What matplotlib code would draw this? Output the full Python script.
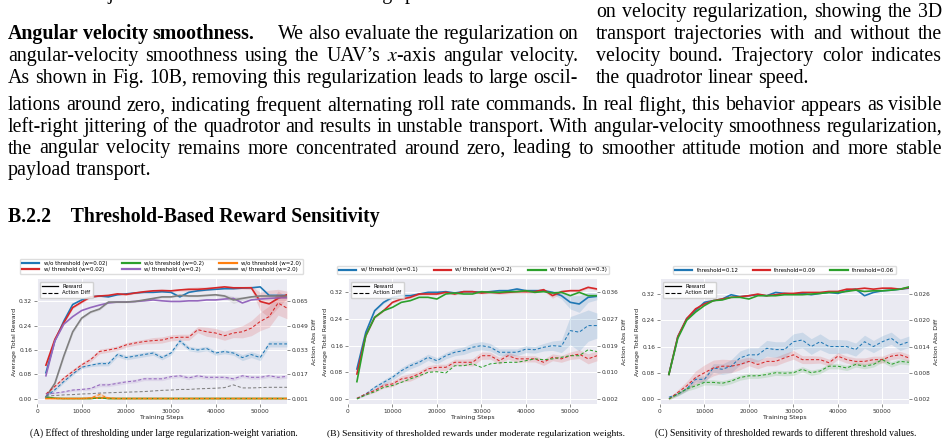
import numpy as np
import matplotlib
matplotlib.use('Agg')
import matplotlib.pyplot as plt
from matplotlib.lines import Line2D

plt.rcParams['mathtext.fontset'] = 'stix'
plt.rcParams['font.family'] = 'DejaVu Sans'

W, H = 948, 443
fig = plt.figure(figsize=(W / 100, H / 100), dpi=100)
rend = fig.canvas.get_renderer()
SERIF = 'Liberation Serif'
BODY = 14.3

# ---------------- data ----------------
steps = np.arange(2000, 56001, 2000)

# panel A: large regularization-weight variation
a_names = ['w/o threshold (w=0.02)', 'w/ threshold (w=0.02)', 'w/o threshold (w=0.2)',
           'w/ threshold (w=0.2)', 'w/o threshold (w=2.0)', 'w/ threshold (w=2.0)']
a_colors = ['#1f77b4', '#d62728', '#2ca02c', '#9467bd', '#ff7f0e', '#7f7f7f']
a_rew_blue = [0.085, 0.19, 0.255, 0.31, 0.325, 0.335, 0.338, 0.335, 0.342, 0.345, 0.348, 0.35, 0.35, 0.352,
              0.35, 0.335, 0.35, 0.355, 0.358, 0.36, 0.362, 0.362, 0.364, 0.365, 0.368, 0.34, 0.34, 0.34]
a_rew_red = [0.11, 0.195, 0.25, 0.3, 0.318, 0.335, 0.338, 0.34, 0.345, 0.343, 0.348, 0.352, 0.355, 0.356,
             0.355, 0.358, 0.36, 0.36, 0.362, 0.365, 0.368, 0.365, 0.365, 0.365, 0.32, 0.312, 0.33, 0.342]
a_rew_green = [0.005, 0.001, 0.0, 0.0, 0.0, 0.0, 0.003, 0.0, 0.0, 0.0, 0.0, 0.0, 0.0, 0.0,
               0.0, 0.0, 0.0, 0.0, 0.0, 0.0, 0.0, 0.0, 0.0, 0.0, 0.0, 0.0, 0.0, 0.0]
a_rew_purple = [0.075, 0.19, 0.245, 0.27, 0.29, 0.3, 0.308, 0.315, 0.318, 0.318, 0.32, 0.322, 0.325, 0.322,
                0.32, 0.32, 0.322, 0.322, 0.325, 0.325, 0.328, 0.33, 0.315, 0.325, 0.328, 0.33, 0.332, 0.332]
a_rew_orange = [0.0, 0.0, 0.0, 0.0, 0.0, 0.001, 0.002, 0.001, 0.0, 0.0, 0.0, 0.0, 0.0, 0.0,
                0.0, 0.0, 0.0, 0.0, 0.0, 0.0, 0.0, 0.0, 0.0, 0.0, 0.0, 0.0, 0.0, 0.0]
a_rew_gray = [0.005, 0.05, 0.14, 0.22, 0.265, 0.285, 0.295, 0.318, 0.318, 0.318, 0.32, 0.325, 0.33, 0.335,
              0.335, 0.34, 0.338, 0.338, 0.34, 0.342, 0.338, 0.325, 0.33, 0.335, 0.338, 0.338, 0.338, 0.337]
a_dif_blue = [0.0024, 0.0068, 0.0122, 0.0172, 0.0216, 0.0230, 0.0240, 0.0240, 0.0300, 0.0280, 0.0290, 0.0300, 0.0310, 0.0280,
              0.0310, 0.0390, 0.0340, 0.0330, 0.0340, 0.0310, 0.0320, 0.0310, 0.0280, 0.0300, 0.0280, 0.0370, 0.0370, 0.0370]
a_dif_red = [0.0040, 0.0090, 0.0144, 0.0188, 0.0232, 0.0266, 0.0320, 0.0330, 0.0342, 0.0364, 0.0376, 0.0386, 0.0392, 0.0396,
             0.0410, 0.0414, 0.0414, 0.0464, 0.0450, 0.0442, 0.0424, 0.0442, 0.0450, 0.0474, 0.0518, 0.0550, 0.0640, 0.0606]
a_dif_green = [0.0012, 0.0010, 0.0010, 0.0010, 0.0010, 0.0010, 0.0012, 0.0010, 0.0010, 0.0010, 0.0010, 0.0010, 0.0010, 0.0010,
               0.0010, 0.0010, 0.0010, 0.0010, 0.0010, 0.0010, 0.0010, 0.0010, 0.0010, 0.0010, 0.0010, 0.0010, 0.0010, 0.0010]
a_dif_purple = [0.0040, 0.0046, 0.0054, 0.0066, 0.0070, 0.0076, 0.0100, 0.0100, 0.0110, 0.0120, 0.0126, 0.0140, 0.0140, 0.0140,
                0.0154, 0.0160, 0.0146, 0.0160, 0.0150, 0.0150, 0.0150, 0.0140, 0.0160, 0.0150, 0.0150, 0.0160, 0.0150, 0.0156]
a_dif_orange = [0.0010, 0.0010, 0.0010, 0.0010, 0.0010, 0.0014, 0.0036, 0.0013, 0.0010, 0.0010, 0.0010, 0.0010, 0.0010, 0.0010,
                0.0010, 0.0010, 0.0010, 0.0010, 0.0010, 0.0010, 0.0010, 0.0010, 0.0010, 0.0010, 0.0010, 0.0010, 0.0010, 0.0010]
a_dif_gray = [0.0026, 0.0030, 0.0034, 0.0036, 0.0040, 0.0042, 0.0046, 0.0048, 0.0050, 0.0052, 0.0054, 0.0056, 0.0060, 0.0064,
              0.0066, 0.0070, 0.0070, 0.0074, 0.0076, 0.0078, 0.0082, 0.0100, 0.0080, 0.0080, 0.0082, 0.0084, 0.0084, 0.0084]
a_sd_rew_red = [0.005, 0.005, 0.005, 0.004, 0.004, 0.003, 0.003, 0.003, 0.003, 0.003, 0.003, 0.003, 0.004, 0.004,
                0.004, 0.004, 0.006, 0.008, 0.006, 0.004, 0.004, 0.004, 0.004, 0.006, 0.03, 0.045, 0.03, 0.012]
a_sd_rew_gray = [0.002, 0.006, 0.008, 0.006, 0.005, 0.004, 0.004, 0.003, 0.003, 0.003, 0.003, 0.003, 0.003, 0.003,
                 0.003, 0.003, 0.003, 0.003, 0.003, 0.004, 0.006, 0.012, 0.006, 0.004, 0.004, 0.004, 0.004, 0.004]
a_sd_dif_red = [0.0005, 0.0010, 0.0015, 0.0015, 0.0015, 0.0015, 0.0015, 0.0015, 0.0015, 0.0015, 0.0015, 0.0015, 0.0020, 0.0020,
                0.0020, 0.0020, 0.0020, 0.0020, 0.0030, 0.0030, 0.0030, 0.0030, 0.0040, 0.0050, 0.0060, 0.0070, 0.0080, 0.0070]
a_sd_dif_blue = [0.0005, 0.0010, 0.0010, 0.0010, 0.0010, 0.0010, 0.0015, 0.0015, 0.0015, 0.0015, 0.0015, 0.0015, 0.0015, 0.0015,
                 0.0015, 0.0015, 0.0015, 0.0015, 0.0015, 0.0015, 0.0015, 0.0015, 0.0020, 0.0020, 0.0020, 0.0020, 0.0020, 0.0020]
a_sd_dif_purple = [0.0004, 0.0005, 0.0006, 0.0008, 0.0009, 0.0010, 0.0012, 0.0012, 0.0012, 0.0012, 0.0012, 0.0012, 0.0012, 0.0012,
                   0.0012, 0.0012, 0.0012, 0.0012, 0.0012, 0.0012, 0.0012, 0.0012, 0.0012, 0.0012, 0.0012, 0.0012, 0.0012, 0.0012]
a_sd_dif_orange = [0.0, 0.0, 0.0, 0.0, 0.0, 0.0008, 0.0016, 0.0008, 0.0, 0.0, 0.0, 0.0, 0.0, 0.0,
                   0.0, 0.0, 0.0, 0.0, 0.0, 0.0, 0.0, 0.0, 0.0, 0.0, 0.0, 0.0, 0.0, 0.0]

# panel B: moderate regularization weights
b_names = ['w/ threshold (w=0.1)', 'w/ threshold (w=0.2)', 'w/ threshold (w=0.3)']
b_colors = ['#1f77b4', '#d62728', '#2ca02c']
b_rew_blue = [0.09, 0.2, 0.265, 0.29, 0.305, 0.31, 0.31, 0.315, 0.32, 0.32, 0.322, 0.318, 0.322, 0.322,
              0.32, 0.322, 0.325, 0.325, 0.33, 0.325, 0.325, 0.325, 0.32, 0.31, 0.29, 0.285, 0.305, 0.308]
b_rew_red = [0.075, 0.19, 0.245, 0.265, 0.29, 0.3, 0.305, 0.315, 0.315, 0.315, 0.32, 0.315, 0.322, 0.322,
             0.318, 0.32, 0.318, 0.32, 0.322, 0.322, 0.322, 0.328, 0.31, 0.322, 0.325, 0.325, 0.335, 0.33]
b_rew_green = [0.052, 0.19, 0.245, 0.265, 0.275, 0.29, 0.295, 0.305, 0.305, 0.3, 0.315, 0.318, 0.315, 0.315,
               0.322, 0.32, 0.32, 0.322, 0.322, 0.325, 0.32, 0.322, 0.318, 0.32, 0.31, 0.32, 0.31, 0.31]
b_dif_blue = [0.0022, 0.0036, 0.0057, 0.0073, 0.0089, 0.0110, 0.0126, 0.0137, 0.0153, 0.0142, 0.0158, 0.0169, 0.0174, 0.0185,
              0.0190, 0.0185, 0.0169, 0.0169, 0.0169, 0.0179, 0.0177, 0.0185, 0.0190, 0.0188, 0.0238, 0.0233, 0.0254, 0.0254]
b_dif_red = [0.0022, 0.0036, 0.0047, 0.0063, 0.0068, 0.0084, 0.0089, 0.0100, 0.0116, 0.0121, 0.0121, 0.0137, 0.0137, 0.0137,
             0.0158, 0.0158, 0.0142, 0.0158, 0.0148, 0.0148, 0.0148, 0.0137, 0.0153, 0.0148, 0.0158, 0.0163, 0.0148, 0.0158]
b_dif_green = [0.0020, 0.0033, 0.0043, 0.0057, 0.0063, 0.0073, 0.0084, 0.0094, 0.0105, 0.0107, 0.0103, 0.0126, 0.0126, 0.0132,
               0.0121, 0.0132, 0.0135, 0.0137, 0.0137, 0.0142, 0.0148, 0.0145, 0.0148, 0.0153, 0.0158, 0.0158, 0.0177, 0.0171]
b_sd_rew_blue = [0.008, 0.006, 0.004, 0.004, 0.003, 0.003, 0.003, 0.003, 0.003, 0.003, 0.003, 0.003, 0.003, 0.003,
                 0.003, 0.003, 0.003, 0.003, 0.004, 0.004, 0.004, 0.004, 0.005, 0.010, 0.020, 0.025, 0.015, 0.010]
b_sd_rew_red = [0.004, 0.004, 0.003, 0.003, 0.003, 0.003, 0.003, 0.003, 0.003, 0.003, 0.003, 0.003, 0.003, 0.003,
                0.003, 0.003, 0.004, 0.004, 0.004, 0.004, 0.004, 0.004, 0.008, 0.004, 0.004, 0.004, 0.004, 0.004]
b_sd_dif_blue = [0.0002, 0.0004, 0.0006, 0.0008, 0.0009, 0.0010, 0.0010, 0.0010, 0.0010, 0.0010, 0.0010, 0.0011, 0.0012, 0.0013,
                 0.0013, 0.0012, 0.0011, 0.0011, 0.0011, 0.0011, 0.0011, 0.0012, 0.0015, 0.0020, 0.0045, 0.0060, 0.0050, 0.0040]
b_sd_dif_red = [0.0002, 0.0004, 0.0006, 0.0008, 0.0009, 0.0010, 0.0012, 0.0010, 0.0010, 0.0010, 0.0010, 0.0010, 0.0010, 0.0012,
                0.0012, 0.0011, 0.0011, 0.0011, 0.0011, 0.0010, 0.0010, 0.0010, 0.0011, 0.0011, 0.0012, 0.0014, 0.0016, 0.0016]

# panel C: threshold values
c_names = ['threshold=0.12', 'threshold=0.09', 'threshold=0.06']
c_colors = ['#1f77b4', '#d62728', '#2ca02c']
c_rew_blue = [0.075, 0.19, 0.245, 0.27, 0.295, 0.3, 0.305, 0.318, 0.312, 0.315, 0.318, 0.315, 0.325, 0.322,
              0.32, 0.322, 0.318, 0.322, 0.325, 0.322, 0.33, 0.335, 0.315, 0.325, 0.33, 0.332, 0.335, 0.338]
c_rew_red = [0.075, 0.19, 0.245, 0.275, 0.29, 0.3, 0.305, 0.31, 0.312, 0.315, 0.32, 0.315, 0.318, 0.322,
             0.322, 0.325, 0.325, 0.325, 0.328, 0.328, 0.335, 0.335, 0.338, 0.335, 0.338, 0.338, 0.335, 0.34]
c_rew_green = [0.075, 0.185, 0.24, 0.265, 0.285, 0.3, 0.302, 0.31, 0.31, 0.305, 0.315, 0.315, 0.315, 0.318,
               0.318, 0.318, 0.32, 0.322, 0.325, 0.325, 0.328, 0.332, 0.328, 0.33, 0.33, 0.332, 0.335, 0.342]
c_dif_blue = [0.0024, 0.0031, 0.0043, 0.0065, 0.0065, 0.0091, 0.0088, 0.0095, 0.0114, 0.0121, 0.0121, 0.0136, 0.0133, 0.0133,
              0.0151, 0.0155, 0.0140, 0.0151, 0.0140, 0.0140, 0.0140, 0.0133, 0.0151, 0.0140, 0.0151, 0.0159, 0.0144, 0.0151]
c_dif_red = [0.0020, 0.0035, 0.0050, 0.0069, 0.0080, 0.0091, 0.0095, 0.0095, 0.0099, 0.0106, 0.0099, 0.0106, 0.0106, 0.0114,
             0.0121, 0.0110, 0.0110, 0.0110, 0.0103, 0.0118, 0.0110, 0.0106, 0.0106, 0.0110, 0.0110, 0.0118, 0.0121, 0.0114]
c_dif_green = [0.0020, 0.0031, 0.0043, 0.0050, 0.0058, 0.0058, 0.0056, 0.0061, 0.0069, 0.0073, 0.0073, 0.0076, 0.0080, 0.0079,
               0.0080, 0.0088, 0.0080, 0.0084, 0.0095, 0.0095, 0.0091, 0.0099, 0.0095, 0.0099, 0.0110, 0.0099, 0.0106, 0.0104]
c_sd_dif_blue = [0.0002, 0.0004, 0.0005, 0.0006, 0.0008, 0.0010, 0.0012, 0.0015, 0.0016, 0.0016, 0.0016, 0.0018, 0.0018, 0.0018,
                 0.0018, 0.0018, 0.0018, 0.0018, 0.0016, 0.0016, 0.0015, 0.0015, 0.0015, 0.0014, 0.0014, 0.0014, 0.0013, 0.0013]
c_sd_dif_red = [0.0002, 0.0006, 0.0010, 0.0015, 0.0018, 0.0018, 0.0016, 0.0015, 0.0012, 0.0010, 0.0010, 0.0010, 0.0010, 0.0010,
                0.0010, 0.0009, 0.0009, 0.0008, 0.0008, 0.0008, 0.0008, 0.0008, 0.0008, 0.0008, 0.0008, 0.0008, 0.0008, 0.0008]
c_sd_dif_green = [0.0002, 0.0004, 0.0005, 0.0006, 0.0006, 0.0006, 0.0006, 0.0006, 0.0006, 0.0006, 0.0006, 0.0006, 0.0006, 0.0006,
                  0.0006, 0.0006, 0.0006, 0.0006, 0.0006, 0.0006, 0.0006, 0.0006, 0.0006, 0.0006, 0.0006, 0.0006, 0.0006, 0.0006]

left_ticks = [0.0, 0.08, 0.16, 0.24, 0.32]
a_right_labels = ['0.001', '0.017', '0.033', '0.049', '0.065']
b_right_labels = ['0.002', '0.010', '0.019', '0.027', '0.036']
c_right_labels = ['0.002', '0.008', '0.014', '0.020', '0.026']


# ---------------- page text ----------------
def fx(x):
    return x / W


def fy(y):
    return 1 - y / H


def text_line(segs, x0, x1, y, size=BODY, justify=True):
    items = []
    for k, (s, wt) in enumerate(segs):
        for j, w in enumerate(s.split()):
            t = fig.text(fx(x0), fy(y), w, fontsize=size, family=SERIF, weight=wt, va='baseline')
            items.append((t, t.get_window_extent(rend).width, k > 0 and j == 0))
    quad = size * 100 / 72
    used = sum(i[1] for i in items) + sum(quad for i in items if i[2])
    gap = (x1 - x0 - used) / (len(items) - 1) if justify else quad * 0.25
    x = x0
    for t, w, q in items:
        if q:
            x += quad
        t.set_x(fx(x))
        x += w + gap


def fit_text(s, x0, x1, y, size=8, **kw):
    t = fig.text(fx(x0), fy(y), s, fontsize=size, family=SERIF, va='baseline', **kw)
    t.set_fontsize(size * (x1 - x0) / t.get_window_extent(rend).width)
    return t


LX0, LX1, RX0, RX1 = 8, 578, 596, 942
rows = [17, 39, 61, 83, 110.5, 132, 153.5, 175]

# last line of the previous paragraph, mostly above the top edge
fig.text(fx(LX0), fy(-1), 'reference trajectories at lower and safer cruising speeds.',
         fontsize=BODY, family=SERIF, va='baseline')

right_col = ['on velocity regularization, showing the 3D',
             'transport trajectories with and without the',
             'velocity bound.  Trajectory color indicates',
             'the quadrotor linear speed.']
for i, s in enumerate(right_col):
    text_line([(s, 'normal')], RX0, RX1, rows[i], justify=i < 3)

left_col = [[('Angular velocity smoothness.', 'bold'), ('We also evaluate the regularization on', 'normal')],
            [('angular-velocity smoothness using the UAV\u2019s $x$-axis angular velocity.', 'normal')],
            [('As shown in Fig. 10B, removing this regularization leads to large oscil-', 'normal')]]
for i, segs in enumerate(left_col):
    text_line(segs, LX0, LX1, rows[i + 1])

full = ['lations around zero, indicating frequent alternating roll rate commands. In real flight, this behavior appears as visible',
        'left-right jittering of the quadrotor and results in unstable transport. With angular-velocity smoothness regularization,',
        'the angular velocity remains more concentrated around zero, leading to smoother attitude motion and more stable',
        'payload transport.']
for i, s in enumerate(full):
    text_line([(s, 'normal')], LX0, RX1, rows[i + 4], justify=i < 3)

fit_text('B.2.2    Threshold-Based Reward Sensitivity', 8, 378, 222.5, weight='bold')


# ---------------- charts ----------------
def panel(x0, x1, ylim, series, rmap, rlabels, leg_center, colsp, caption, cap_x):
    ax = fig.add_axes([fx(x0), fy(404), (x1 - x0) / W, 125 / H])
    ax.set_facecolor('#EAEAF2')
    for sp in ax.spines.values():
        sp.set_visible(False)
    ax.grid(True, color='white', lw=0.7)
    ax.set_axisbelow(True)
    ax2 = ax.twinx()
    for sp in ax2.spines.values():
        sp.set_visible(False)
    lo, hi = rmap
    k = (hi - lo) / 0.32
    handles = []
    for name, c, rew, dif, sdr, sdd in series:
        rew = np.array(rew)
        dif = np.array(dif)
        if sdr is not None:
            ax.fill_between(steps, rew - np.array(sdr), rew + np.array(sdr), color=c, alpha=0.15, lw=0)
        if sdd is not None:
            ax2.fill_between(steps, dif - np.array(sdd), dif + np.array(sdd), color=c, alpha=0.15, lw=0)
        ax.plot(steps, rew, color=c, lw=1.2)
        ax2.plot(steps, dif, color=c, lw=0.75, ls=(0, (3, 2)))
        handles.append(Line2D([], [], color=c, lw=1.6, label=name))
    ax.set_xlim(0, 56000)
    ax.set_ylim(*ylim)
    ax2.set_ylim(lo + k * ylim[0], lo + k * ylim[1])
    ax.set_yticks(left_ticks)
    ax.set_yticklabels(['%.2f' % v for v in left_ticks])
    ax2.set_yticks([lo + k * v for v in left_ticks])
    ax2.set_yticklabels(rlabels)
    ax.set_xticks([0, 10000, 20000, 30000, 40000, 50000])
    for a in (ax, ax2):
        a.tick_params(labelsize=4.2, length=2, width=0.4, pad=1.5, colors='#333333')
    ax.set_xlabel('Training Steps', fontsize=4.4, labelpad=1, color='#222222')
    ax.set_ylabel('Average Total Reward', fontsize=4.5, labelpad=1.5, color='#222222')
    ax2.set_ylabel('Action Abs Diff', fontsize=4.5, labelpad=2, color='#222222')
    ax2.legend(handles=[Line2D([], [], color='k', lw=0.9, label='Reward'),
                        Line2D([], [], color='k', lw=0.8, ls='--', label='Action Diff')],
               loc='upper left', fontsize=3.9, handlelength=3, borderpad=0.4, labelspacing=0.3,
               frameon=True, facecolor='white', framealpha=0.85, edgecolor='#cccccc')
    fig.legend(handles=handles, loc='center', bbox_to_anchor=(fx(leg_center[0]), fy(leg_center[1])),
               ncol=3, fontsize=3.9, handlelength=3.2, columnspacing=colsp, labelspacing=0.2,
               borderpad=0.35, frameon=True, facecolor='white', edgecolor='#dddddd', framealpha=1)
    fit_text(caption, cap_x[0], cap_x[1], 435.5)


panel(37, 287, (-0.018, 0.394),
      [(a_names[0], a_colors[0], a_rew_blue, a_dif_blue, None, a_sd_dif_blue),
       (a_names[1], a_colors[1], a_rew_red, a_dif_red, a_sd_rew_red, a_sd_dif_red),
       (a_names[2], a_colors[2], a_rew_green, a_dif_green, None, None),
       (a_names[3], a_colors[3], a_rew_purple, a_dif_purple, None, a_sd_dif_purple),
       (a_names[4], a_colors[4], a_rew_orange, a_dif_orange, None, a_sd_dif_orange),
       (a_names[5], a_colors[5], a_rew_gray, a_dif_gray, a_sd_rew_gray, None)],
      (0.001, 0.065), a_right_labels, (161.5, 266.5), 2.8,
      '(A) Effect of thresholding under large regularization-weight variation.', (30, 297))

panel(348, 597, (-0.015, 0.360),
      [(b_names[0], b_colors[0], b_rew_blue, b_dif_blue, b_sd_rew_blue, b_sd_dif_blue),
       (b_names[1], b_colors[1], b_rew_red, b_dif_red, b_sd_rew_red, b_sd_dif_red),
       (b_names[2], b_colors[2], b_rew_green, b_dif_green, None, None)],
      (0.002, 0.036), b_right_labels, (473, 270), 3.0,
      '(B) Sensitivity of thresholded rewards under moderate regularization weights.', (327, 623))

panel(660, 909, (-0.0153, 0.366),
      [(c_names[0], c_colors[0], c_rew_blue, c_dif_blue, None, c_sd_dif_blue),
       (c_names[1], c_colors[1], c_rew_red, c_dif_red, None, c_sd_dif_red),
       (c_names[2], c_colors[2], c_rew_green, c_dif_green, None, c_sd_dif_green)],
      (0.002, 0.026), c_right_labels, (784.5, 270), 2.6,
      '(C) Sensitivity of thresholded rewards to different threshold values.', (655, 915))

fig.savefig('out.png', dpi=100)
